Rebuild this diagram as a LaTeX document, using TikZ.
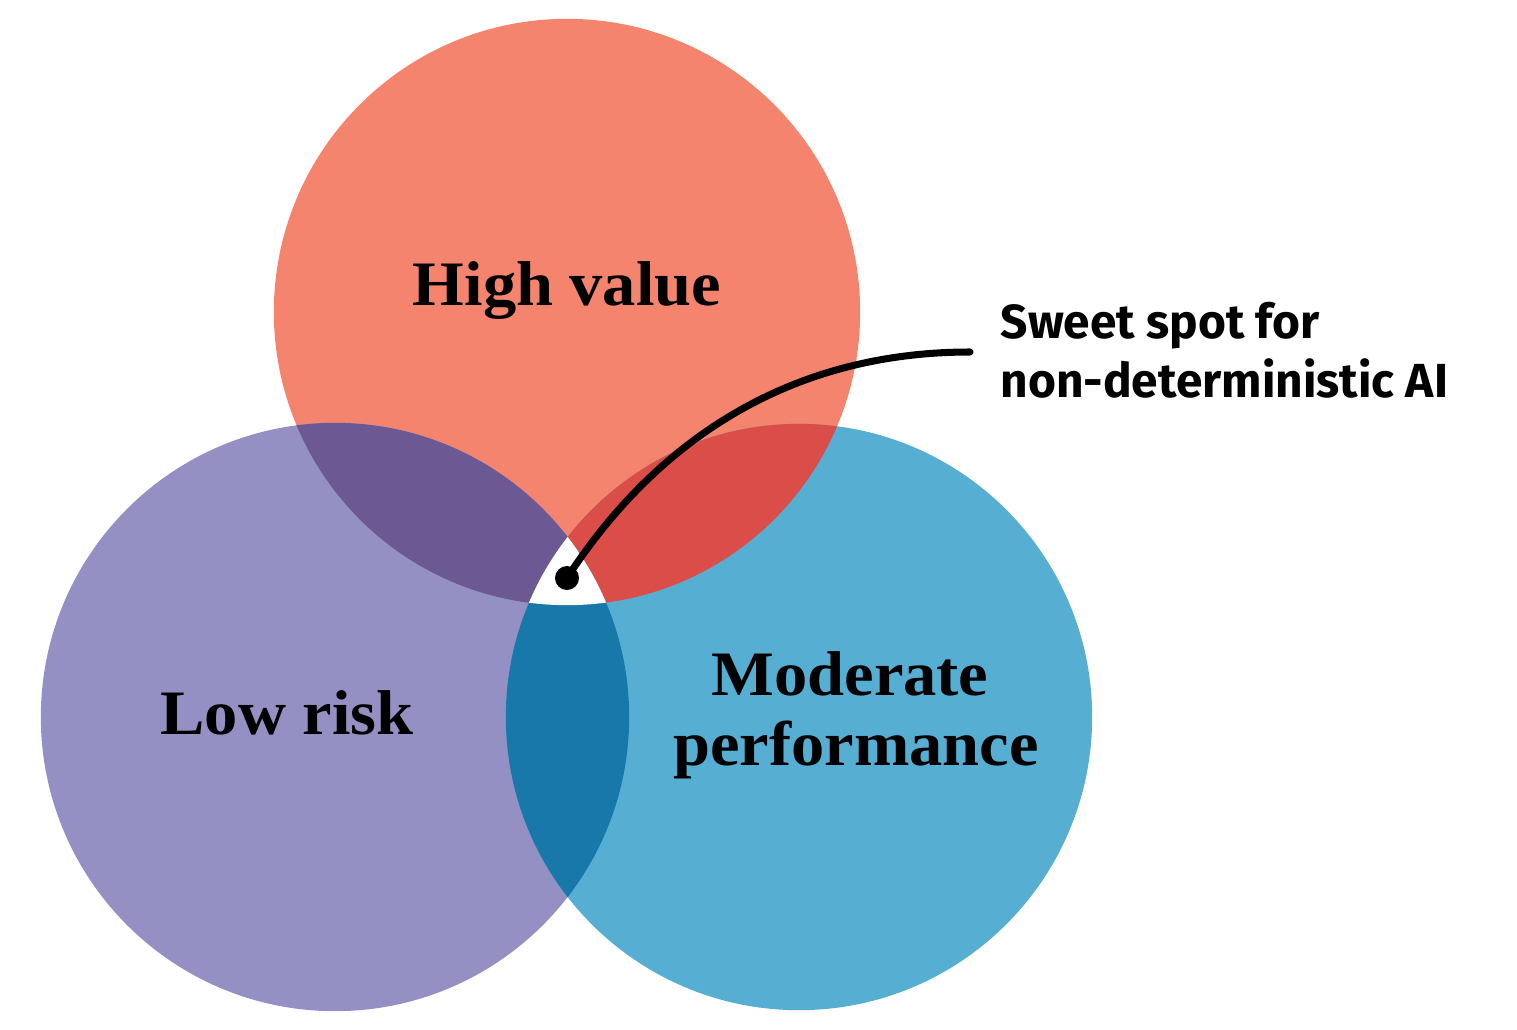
\documentclass[tikz,border=0pt]{standalone}
\usepackage{fontspec}
\setmainfont{Liberation Serif}[FakeStretch=1.05]
\newfontfamily\labelfont{Fira Sans}
\definecolor{cTop}{HTML}{F5846E}
\definecolor{cLeft}{HTML}{9490C4}
\definecolor{cRight}{HTML}{57AED3}
\definecolor{cTL}{HTML}{6C5892}
\definecolor{cTR}{HTML}{DB4D48}
\definecolor{cLR}{HTML}{1878AA}
\tikzset{
  setlabel/.style={font=\fontsize{18}{20}\selectfont\bfseries, anchor=base, inner sep=0pt},
  notelabel/.style={font=\labelfont\fontsize{13.6}{16}\selectfont\bfseries, anchor=base west, inner sep=0pt},
  leader/.style={line width=2pt, line cap=round},
  dotmark/.style={circle, fill=black, minimum size=0.24cm, inner sep=0pt}
}
\newcommand{\CirA}{(567,312) circle [radius=2.93cm]}
\newcommand{\CirB}{(335,717) circle [radius=2.94cm]}
\newcommand{\CirC}{(799,717) circle [radius=2.93cm]}
\begin{document}
\begin{tikzpicture}[x=0.01cm,y=-0.01cm]
\useasboundingbox (0,0) rectangle (1517,1030);
\fill[cTop] \CirA;
\fill[cLeft] \CirB;
\fill[cRight] \CirC;
\begin{scope}
  \clip \CirA;
  \fill[cTL] \CirB;
  \fill[cTR] \CirC;
\end{scope}
\begin{scope}
  \clip \CirB;
  \fill[cLR] \CirC;
  \clip \CirC;
  \fill[white] \CirA;
\end{scope}
\node[setlabel] (high) at (567,305) {High value};
\node[setlabel] (low) at (287,734) {Low risk};
\node[setlabel] (mod) at (850,695) {Moderate};
\node[setlabel] (perf) at (856,765) {performance};
\node[notelabel] (sweet1) at (1000,338) {Sweet spot for};
\node[notelabel] (sweet2) at (1000,397) {non-deterministic AI};
\node[dotmark] (dot) at (567,578) {};
\coordinate (leadend) at (970,352);
\draw[leader] (dot.center) .. controls (650,450) and (780,352) .. (leadend);
\end{tikzpicture}
\end{document}
